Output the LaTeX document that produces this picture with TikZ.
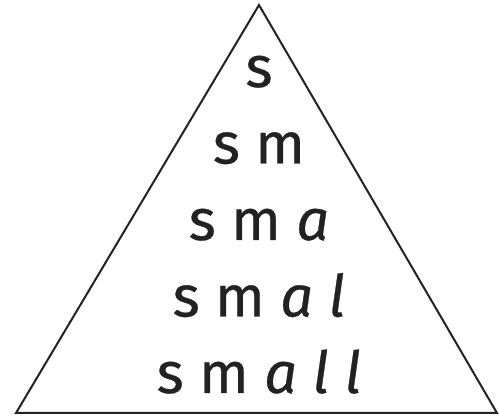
\documentclass[tikz,border=0pt]{standalone}
\usepackage{fontspec}
\newfontfamily\wordfont{Fira Sans}[FakeBold=0.5, ItalicFeatures={FakeBold=0.5}]
\usetikzlibrary{calc}
\newcommand{\lettera}{{\itshape a}}
\newcommand{\letterl}{{\itshape l}}

\begin{document}
\begin{tikzpicture}[
    x=1pt, y=-1pt,
    every node/.style={inner sep=0pt, outer sep=0pt},
  ]
    \definecolor{inkgray}{HTML}{222222}
    \tikzset{
      spellword/.style={anchor=base, text=inkgray, font=\wordfont\fontsize{58}{60}\selectfont},
    }
    \useasboundingbox (0,0) rectangle (499,417);

    % ============ triangle ============
    \coordinate (apex) at (259,5);
    \coordinate (baseright) at (497,413);
    \coordinate (baseleft) at (16,413);
    \draw[inkgray, line width=2pt, line join=miter] (apex) -- (baseright) -- (baseleft) -- cycle;

    % ============ word ladder ============
    \foreach \word [count=\i] in {s, s m, s m \lettera, s m \lettera\ \letterl, s m \lettera\ \letterl\ \letterl}{
      \node[spellword] (word\i) at (259,{87+76.5*(\i-1)}) {\word};
    }
  \end{tikzpicture}
\end{document}
